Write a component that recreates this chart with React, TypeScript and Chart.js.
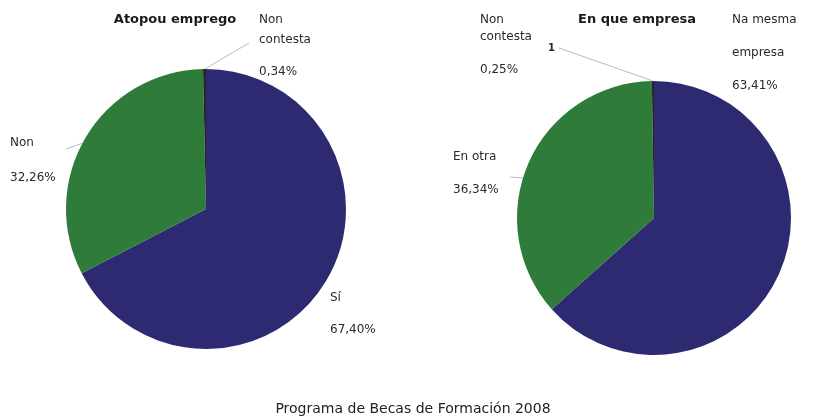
import React, { useEffect, useRef } from "react";
import { Chart, registerables } from "chart.js";

Chart.register(...registerables);

const leftTitle = "Atopou emprego";
const leftCategories = ["Sí", "Non", "Non contesta"];
const leftValues = [67.4, 32.26, 0.34];

const rightTitle = "En que empresa";
const rightCategories = ["Na mesma empresa", "En otra", "Non contesta"];
const rightValues = [63.41, 36.34, 0.25];

const footerText = "Programa de Becas de Formación 2008";

const sliceColors = ["#2e2a72", "#2f7b3a", "#262626"];

const fmt = (v: number) => v.toFixed(2).replace(".", ",") + "%";

type LabelCfg = {
  lines: string[];
  x: number;
  ys: number[];
  vy: number;
  line?: { from: [number, number]; angle: number };
  extra?: { text: string; x: number; y: number };
};

type PieCfg = {
  title: string;
  titleX: number;
  categories: string[];
  values: number[];
  padding: { left: number; right: number; top: number; bottom: number };
  labels: LabelCfg[];
};

const leftCfg: PieCfg = {
  title: leftTitle,
  titleX: 175,
  categories: leftCategories,
  values: leftValues,
  padding: { left: 66, right: 63, top: 69, bottom: 71 },
  labels: [
    { lines: ["Sí"], x: 330, ys: [298], vy: 330 },
    { lines: ["Non"], x: 10, ys: [143], vy: 178, line: { from: [66, 149], angle: 298 } },
    { lines: ["Non", "contesta"], x: 259, ys: [20, 40], vy: 72, line: { from: [249, 43], angle: 359.5 } },
  ],
};

const rightCfg: PieCfg = {
  title: rightTitle,
  titleX: 228,
  categories: rightCategories,
  values: rightValues,
  padding: { left: 108, right: 27, top: 81, bottom: 65 },
  labels: [
    { lines: ["Na mesma", "empresa"], x: 323, ys: [20, 53], vy: 86 },
    { lines: ["En otra"], x: 44, ys: [157], vy: 190, line: { from: [101, 177], angle: 287 } },
    {
      lines: ["Non", "contesta"],
      x: 71,
      ys: [20, 37],
      vy: 70,
      line: { from: [150, 48], angle: 359.6 },
      extra: { text: "1", x: 139, y: 48 },
    },
  ],
};

const FONT = "'DejaVu Sans', Verdana, sans-serif";

function makeLabelPlugin(cfg: PieCfg) {
  return {
    id: "customLabels",
    afterDraw(chart: any) {
      const ctx = chart.ctx as CanvasRenderingContext2D;
      const meta = chart.getDatasetMeta(0);
      const arc0 = meta.data[0] as any;
      const cx = arc0.x;
      const cy = arc0.y;
      const r = arc0.outerRadius;
      ctx.save();
      // title
      ctx.fillStyle = "#1a1a1a";
      ctx.font = `bold 13px ${FONT}`;
      ctx.textAlign = "center";
      ctx.textBaseline = "middle";
      ctx.fillText(cfg.title, cfg.titleX, 20);
      // labels
      ctx.textAlign = "left";
      ctx.font = `12px ${FONT}`;
      cfg.labels.forEach((lab, i) => {
        ctx.fillStyle = "#2a2a2a";
        lab.lines.forEach((t, j) => ctx.fillText(t, lab.x, lab.ys[j]));
        ctx.fillText(fmt(cfg.values[i]), lab.x, lab.vy);
        if (lab.extra) {
          ctx.font = `bold 10px ${FONT}`;
          ctx.fillText(lab.extra.text, lab.extra.x, lab.extra.y);
          ctx.font = `12px ${FONT}`;
        }
        if (lab.line) {
          const a = (lab.line.angle * Math.PI) / 180;
          const ex = cx + r * Math.sin(a);
          const ey = cy - r * Math.cos(a);
          ctx.strokeStyle = "#b8b8c0";
          ctx.lineWidth = 1;
          ctx.beginPath();
          ctx.moveTo(lab.line.from[0], lab.line.from[1]);
          ctx.lineTo(ex, ey);
          ctx.stroke();
        }
      });
      ctx.restore();
    },
  };
}

function PieCanvas({ cfg, left }: { cfg: PieCfg; left: number }) {
  const ref = useRef<HTMLCanvasElement | null>(null);
  useEffect(() => {
    if (!ref.current) return;
    const chart = new Chart(ref.current, {
      type: "pie",
      data: {
        labels: cfg.categories,
        datasets: [
          {
            data: cfg.values,
            backgroundColor: sliceColors,
            borderWidth: 0,
          },
        ],
      },
      options: {
        responsive: false,
        animation: false,
        layout: { padding: cfg.padding },
        plugins: {
          legend: { display: false },
          tooltip: { enabled: false },
          title: { display: false },
        },
      },
      plugins: [makeLabelPlugin(cfg)],
    });
    return () => chart.destroy();
  }, [cfg]);
  return (
    <canvas
      ref={ref}
      width={409}
      height={420}
      style={{ position: "absolute", left, top: 0, width: 409, height: 420 }}
    />
  );
}

export default function App() {
  useEffect(() => {
    document.body.style.margin = "0";
    document.body.style.background = "#ffffff";
  }, []);
  return (
    <div style={{ position: "relative", width: 818, height: 420, background: "#fff", overflow: "hidden" }}>
      <PieCanvas cfg={leftCfg} left={0} />
      <PieCanvas cfg={rightCfg} left={409} />
      <div
        style={{
          position: "absolute",
          left: 4,
          top: 398,
          width: 818,
          textAlign: "center",
          fontFamily: FONT,
          fontSize: 14,
          lineHeight: "20px",
          color: "#222",
        }}
      >
        {footerText}
      </div>
    </div>
  );
}
